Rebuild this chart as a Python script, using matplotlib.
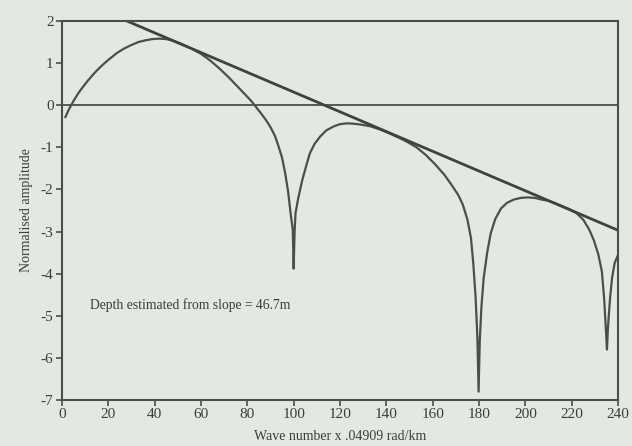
"""
Normalised amplitude spectrum with the fitted slope line.
"""

import matplotlib

matplotlib.use("Agg")
import matplotlib.pyplot as plt

_BG = "#e3e8e0"
_INK = "#4a4f4a"

# wave number (x .04909 rad/km) and normalised amplitude
wave_number = [
    1.5, 3, 5, 7, 9, 11, 13, 15, 18, 21, 24, 27, 30, 33, 36, 39, 42, 45, 48,
    52, 56, 60, 64, 68, 72, 76, 80, 82, 84, 86, 88, 90, 92, 93.5, 95, 96.3,
    97.6, 98.75, 99.6, 100,
    100.4, 100.8, 102, 103.7, 105.5, 107, 109, 111.5, 114, 117.4, 120, 123, 126,
    129, 133, 137, 141, 145, 149, 153, 157, 161, 165, 168, 171, 173, 175, 176.5,
    177.5, 178.5, 179.3, 179.8,
    180.3, 181, 182, 183.5, 185, 187, 189.5, 192, 195, 198, 201, 204, 207, 210,
    213, 216, 219, 222, 225, 227.5, 229.5, 231.5, 233, 234, 234.7, 235.2,
    235.6, 236.5, 237.4, 238.5, 240,
]
amplitude = [
    -0.28, -0.1, 0.1, 0.28, 0.43, 0.57, 0.7, 0.82, 0.98, 1.12, 1.25, 1.35, 1.43, 1.5, 1.54, 1.57, 1.58, 1.57, 1.53,
    1.44, 1.34, 1.22, 1.06, 0.87, 0.66, 0.43, 0.2, 0.08, -0.06, -0.2, -0.35, -0.52, -0.74, -0.98, -1.25, -1.6,
    -2.05, -2.6, -2.95, -3.88,
    -3.0, -2.56, -2.2, -1.78, -1.42, -1.14, -0.92, -0.74, -0.6, -0.5, -0.45, -0.43, -0.44,
    -0.46, -0.5, -0.57, -0.66, -0.76, -0.87, -1.0, -1.18, -1.4, -1.65, -1.88, -2.13, -2.36, -2.72, -3.15,
    -3.75, -4.55, -5.55, -6.8,
    -5.6, -4.8, -4.1, -3.5, -3.05, -2.7, -2.45, -2.32, -2.24, -2.2, -2.19, -2.2, -2.24, -2.27,
    -2.33, -2.4, -2.47, -2.56, -2.72, -2.95, -3.2, -3.55, -3.95, -4.6, -5.3, -5.8,
    -5.3, -4.6, -4.1, -3.75, -3.55,
]

# fitted slope line end points
slope_x = [28, 240]
slope_y = [2.0, -2.97]

x_ticks = list(range(0, 241, 20))
y_ticks = list(range(-7, 3))

plt.rcParams["font.family"] = ["Liberation Serif", "DejaVu Serif"]
plt.rcParams["axes.unicode_minus"] = False

fig = plt.figure(figsize=(6.32, 4.46), dpi=100, facecolor=_BG)
ax = fig.add_axes([0.098, 0.103, 0.880, 0.850], facecolor=_BG)

ax.axhline(0, color=_INK, linewidth=1.3)
ax.plot(wave_number, amplitude, color=_INK, linewidth=1.6)
ax.plot(slope_x, slope_y, color="#3e433e", linewidth=2.0)

ax.text(12, -4.75, "Depth estimated from slope = 46.7m", fontsize=9.8,
        color="#3a3e3a", va="center")

ax.set_xlim(0, 240)
ax.set_ylim(-7, 2)
ax.set_xticks(x_ticks)
ax.set_yticks(y_ticks)
ax.tick_params(direction="out", length=4, width=1.2, color=_INK,
               labelsize=11, labelcolor="#3a3e3a", pad=2)
for s in ax.spines.values():
    s.set_color(_INK)
    s.set_linewidth(1.5)

ax.set_xlabel("Wave number x .04909 rad/km", fontsize=10, color="#3a3e3a", labelpad=6)
ax.set_ylabel("Normalised amplitude", fontsize=10, color="#3a3e3a", labelpad=6)

fig.savefig("out.png", dpi=100, facecolor=_BG)
